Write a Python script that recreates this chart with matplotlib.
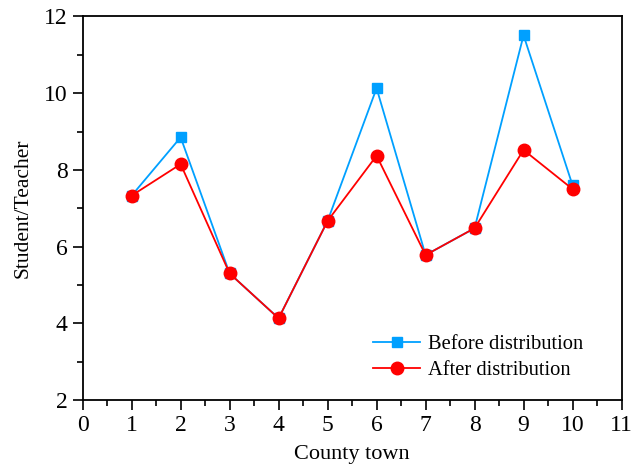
import numpy as np
import matplotlib
matplotlib.use("Agg")
import matplotlib.pyplot as plt
from matplotlib.ticker import MultipleLocator

plt.rcParams['font.family'] = ['Liberation Serif', 'DejaVu Serif']

towns = [1, 2, 3, 4, 5, 6, 7, 8, 9, 10]
before = [7.33, 8.85, 5.30, 4.13, 6.67, 10.13, 5.78, 6.48, 11.51, 7.60]
after = [7.33, 8.15, 5.30, 4.13, 6.67, 8.37, 5.78, 6.48, 8.52, 7.50]

fig = plt.figure(figsize=(6.31, 4.66), dpi=100)
ax = fig.add_axes([0.131, 0.1416, 0.854, 0.823])

ax.plot(towns, before, color='#00A0FF', marker='s', markersize=7.5, lw=1.3,
        label='Before distribution')
ax.plot(towns, after, color='#FF0000', marker='o', markersize=9, lw=1.3,
        label='After distribution')

ax.set_xlim(0, 11)
ax.set_ylim(2, 12)
ax.xaxis.set_major_locator(MultipleLocator(1))
ax.xaxis.set_minor_locator(MultipleLocator(0.5))
ax.yaxis.set_major_locator(MultipleLocator(2))
ax.yaxis.set_minor_locator(MultipleLocator(1))
ax.tick_params(which='major', direction='out', length=7, width=1.2,
               labelsize=17, pad=4)
ax.tick_params(which='minor', direction='out', length=4, width=1.2)
for s in ax.spines.values():
    s.set_linewidth(1.3)

ax.set_xlabel('County town', fontsize=16, labelpad=6)
ax.set_ylabel('Student/Teacher', fontsize=15.5, labelpad=8)

ax.legend(loc='lower right', frameon=False, fontsize=14.8, handlelength=2.3,
          bbox_to_anchor=(0.945, 0.03), borderaxespad=0, labelspacing=0.35,
          handletextpad=0.4)

fig.savefig('out.png', dpi=100)
